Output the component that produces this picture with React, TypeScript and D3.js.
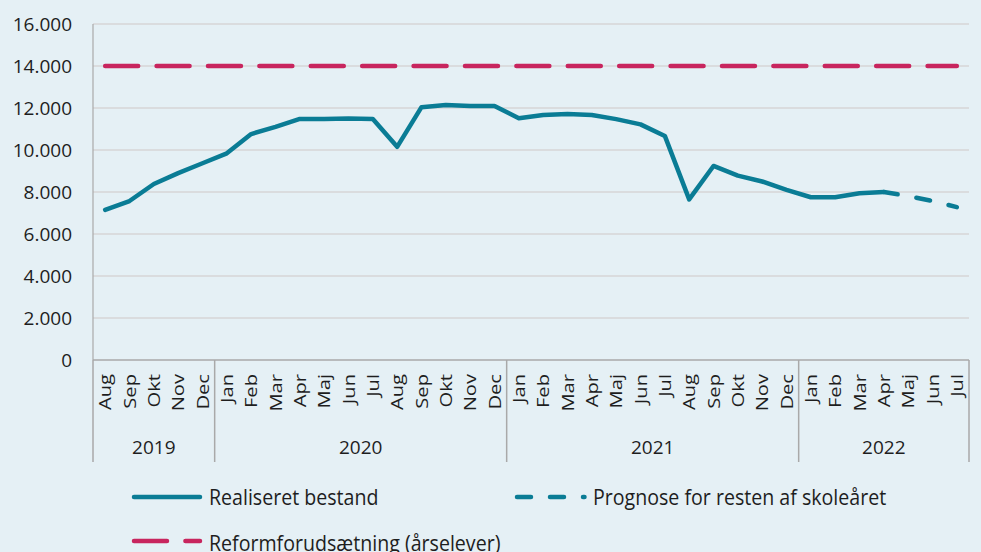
import React from "react";
import * as d3 from "d3";

const months = [
  "Aug", "Sep", "Okt", "Nov", "Dec",
  "Jan", "Feb", "Mar", "Apr", "Maj", "Jun", "Jul", "Aug", "Sep", "Okt", "Nov", "Dec",
  "Jan", "Feb", "Mar", "Apr", "Maj", "Jun", "Jul", "Aug", "Sep", "Okt", "Nov", "Dec",
  "Jan", "Feb", "Mar", "Apr", "Maj", "Jun", "Jul",
];
const years = ["2019", "2020", "2021", "2022"];
const yearCounts = [5, 12, 12, 7];

const realized = [
  7150, 7570, 8380, 8900, 9370,
  9840, 10760, 11100, 11480, 11480, 11500, 11480, 10150, 12040, 12140, 12100, 12100,
  11510, 11670, 11710, 11670, 11470, 11220, 10670, 7650, 9240, 8780, 8500, 8100,
  7750, 7750, 7940, 8000,
];
const forecastStart = 32;
const forecast = [8000, 7810, 7570, 7280];
const reform = 14000;

const yTicks = [0, 2000, 4000, 6000, 8000, 10000, 12000, 14000, 16000];

const legendLabels = [
  "Realiseret bestand",
  "Prognose for resten af skoleåret",
  "Reformforudsætning (årselever)",
];

const W = 981;
const H = 552;
const BG = "#E5F0F5";
const TEAL = "#0A7C95";
const RED = "#C8255E";
const TEXT = "#1E1E1E";
const FONT = "'Open Sans', 'Noto Sans', sans-serif";

const fmt = (v: number) => d3.format(",")(v).replace(/,/g, ".");

export default function App() {
  const left = 93;
  const right = 969;
  const top = 24;
  const bottom = 360;

  const x = d3.scaleBand<number>().domain(d3.range(months.length)).range([left, right]).padding(0);
  const y = d3.scaleLinear().domain([0, 16000]).range([bottom, top]);
  const cx = (i: number) => (x(i) as number) + x.bandwidth() / 2;

  const line = d3
    .line<[number, number]>()
    .x((d) => cx(d[0]))
    .y((d) => y(d[1]));

  const realizedPath = line(realized.map((v, i) => [i, v]));
  const forecastPath = line(forecast.map((v, i) => [forecastStart + i, v]));
  const reformPath = line([
    [0, reform],
    [months.length - 1, reform],
  ]);

  const bounds: number[] = [0];
  yearCounts.forEach((c, i) => bounds.push(bounds[i] + c));
  const boundX = (k: number) => (k >= months.length ? right : (x(k) as number));

  const legendFont = 19.6;

  return (
    <div
      style={{
        position: "fixed",
        left: 0,
        top: 0,
        width: W,
        height: H,
        background: BG,
        overflow: "hidden",
      }}
    >
      <svg width={W} height={H} style={{ display: "block", background: BG }} fontFamily={FONT}>
        <rect x={0} y={0} width={W} height={H} fill={BG} />
        {yTicks.slice(1).map((t) => (
          <line key={t} x1={left} x2={right} y1={y(t)} y2={y(t)} stroke="#D6D6D6" strokeWidth={1.5} />
        ))}
        {yTicks.map((t) => (
          <text key={"l" + t} x={72} y={y(t)} dy="0.36em" textAnchor="end" fontSize={19} fill={TEXT}>
            {fmt(t)}
          </text>
        ))}
        <line x1={left} x2={left} y1={top} y2={bottom} stroke="#A9A9A9" strokeWidth={1.2} />
        <line x1={left} x2={right} y1={bottom} y2={bottom} stroke="#A9A9A9" strokeWidth={1.5} />
        {bounds.map((b, i) => (
          <line key={"b" + i} x1={boundX(b)} x2={boundX(b)} y1={bottom} y2={462} stroke="#A9A9A9" strokeWidth={1.5} />
        ))}
        {months.map((m, i) => (
          <text
            key={"m" + i}
            transform={`translate(${cx(i)},374) rotate(-90) scale(1.2,1)`}
            dy="0.36em"
            textAnchor="end"
            fontSize={16.8}
            fill={TEXT}
          >
            {m}
          </text>
        ))}
        {years.map((yr, i) => (
          <text
            key={"y" + yr}
            x={(boundX(bounds[i]) + boundX(bounds[i + 1])) / 2}
            y={447}
            dy="0.36em"
            textAnchor="middle"
            fontSize={19}
            fill={TEXT}
          >
            {yr}
          </text>
        ))}
        <path d={reformPath || ""} fill="none" stroke={RED} strokeWidth={4.5} strokeDasharray="33 18.4" strokeLinecap="round" />
        <path d={forecastPath || ""} fill="none" stroke={TEAL} strokeWidth={4.5} strokeDasharray="14 19" strokeLinecap="round" />
        <path d={realizedPath || ""} fill="none" stroke={TEAL} strokeWidth={4.5} strokeLinejoin="round" strokeLinecap="round" />

        <line x1={134} x2={200} y1={497} y2={497} stroke={TEAL} strokeWidth={4.5} strokeLinecap="round" />
        <text transform="translate(209,497) scale(1,1.1)" dy="0.36em" fontSize={legendFont} fill={TEXT}>
          {legendLabels[0]}
        </text>
        <line x1={517} x2={584.5} y1={497} y2={497} stroke={TEAL} strokeWidth={4.5} strokeDasharray="14 19" strokeLinecap="round" />
        <text transform="translate(593,497) scale(1,1.1)" dy="0.36em" fontSize={legendFont} fill={TEXT}>
          {legendLabels[1]}
        </text>
        <line x1={134} x2={200} y1={541} y2={541} stroke={RED} strokeWidth={4.5} strokeDasharray="33 18.4" strokeLinecap="round" />
        <text transform="translate(209,543) scale(1,1.1)" dy="0.36em" fontSize={legendFont} fill={TEXT}>
          {legendLabels[2]}
        </text>
      </svg>
    </div>
  );
}
